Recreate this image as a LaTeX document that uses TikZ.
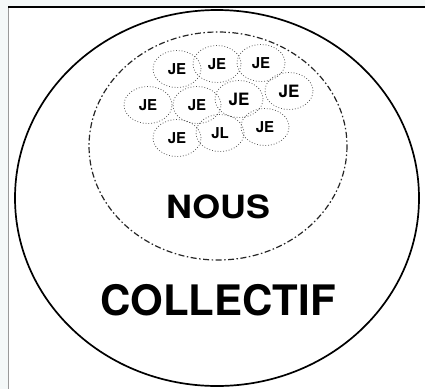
\documentclass[tikz,border=0pt]{standalone}
\usepackage{fontspec}
\setmainfont{TeX Gyre Heros}
\usepackage{xcolor}
\usepackage{tikz}
\usetikzlibrary{shapes.geometric}
\definecolor{pagebg}{HTML}{F4F8F8}
\definecolor{dotgray}{HTML}{555555}

\begin{document}
\begin{tikzpicture}[x=1pt,y=-1pt,
  je/.style={ellipse,draw=dotgray,dotted,thick,minimum width=48pt,minimum height=37pt,inner sep=0pt,font=\fontsize{15}{15}\selectfont\bfseries},
  jebold/.style={je,font=\fontsize{17}{17}\selectfont\bfseries}]
\useasboundingbox (0,0) rectangle (425,389);
\fill[pagebg] (0,0) rectangle (425,389);
\fill[white] (9,7) rectangle (425,389);
\draw[gray!80,line width=1.2pt] (8.6,7) -- (8.6,389);
\draw[black,line width=1.4pt] (8,7) -- (425,7);
% outer circle and the dashed one
\draw[line width=1.7pt] (217,198) ellipse [x radius=202,y radius=188];
\draw[dash pattern=on 6pt off 2.5pt on 1.5pt off 2.5pt,line width=1.2pt,black!85] (218,146) ellipse [x radius=129,y radius=114];
% the JE bubbles
\node[je] (je1) at (177,69) {JE};
\node[je] (je2) at (217,64) {JE};
\node[je] (je3) at (261,63) {JE};
\node[je] (je4) at (148,105) {JE};
\node[je] (je5) at (197,105) {JE};
\node[jebold] (je6) at (239,99) {JE};
\node[jebold] (je7) at (289,91) {JE};
\node[je] (je8) at (177,138) {JE};
\node[je] (jl) at (220,133) {JL};
\node[je] (je9) at (265,127) {JE};
\node[font=\fontsize{32}{32}\selectfont\bfseries,xscale=1.12] (nous) at (218,207) {NOUS};
\node[font=\fontsize{42}{42}\selectfont\bfseries] (collectif) at (218,300) {COLLECTIF};
\end{tikzpicture}
\end{document}
